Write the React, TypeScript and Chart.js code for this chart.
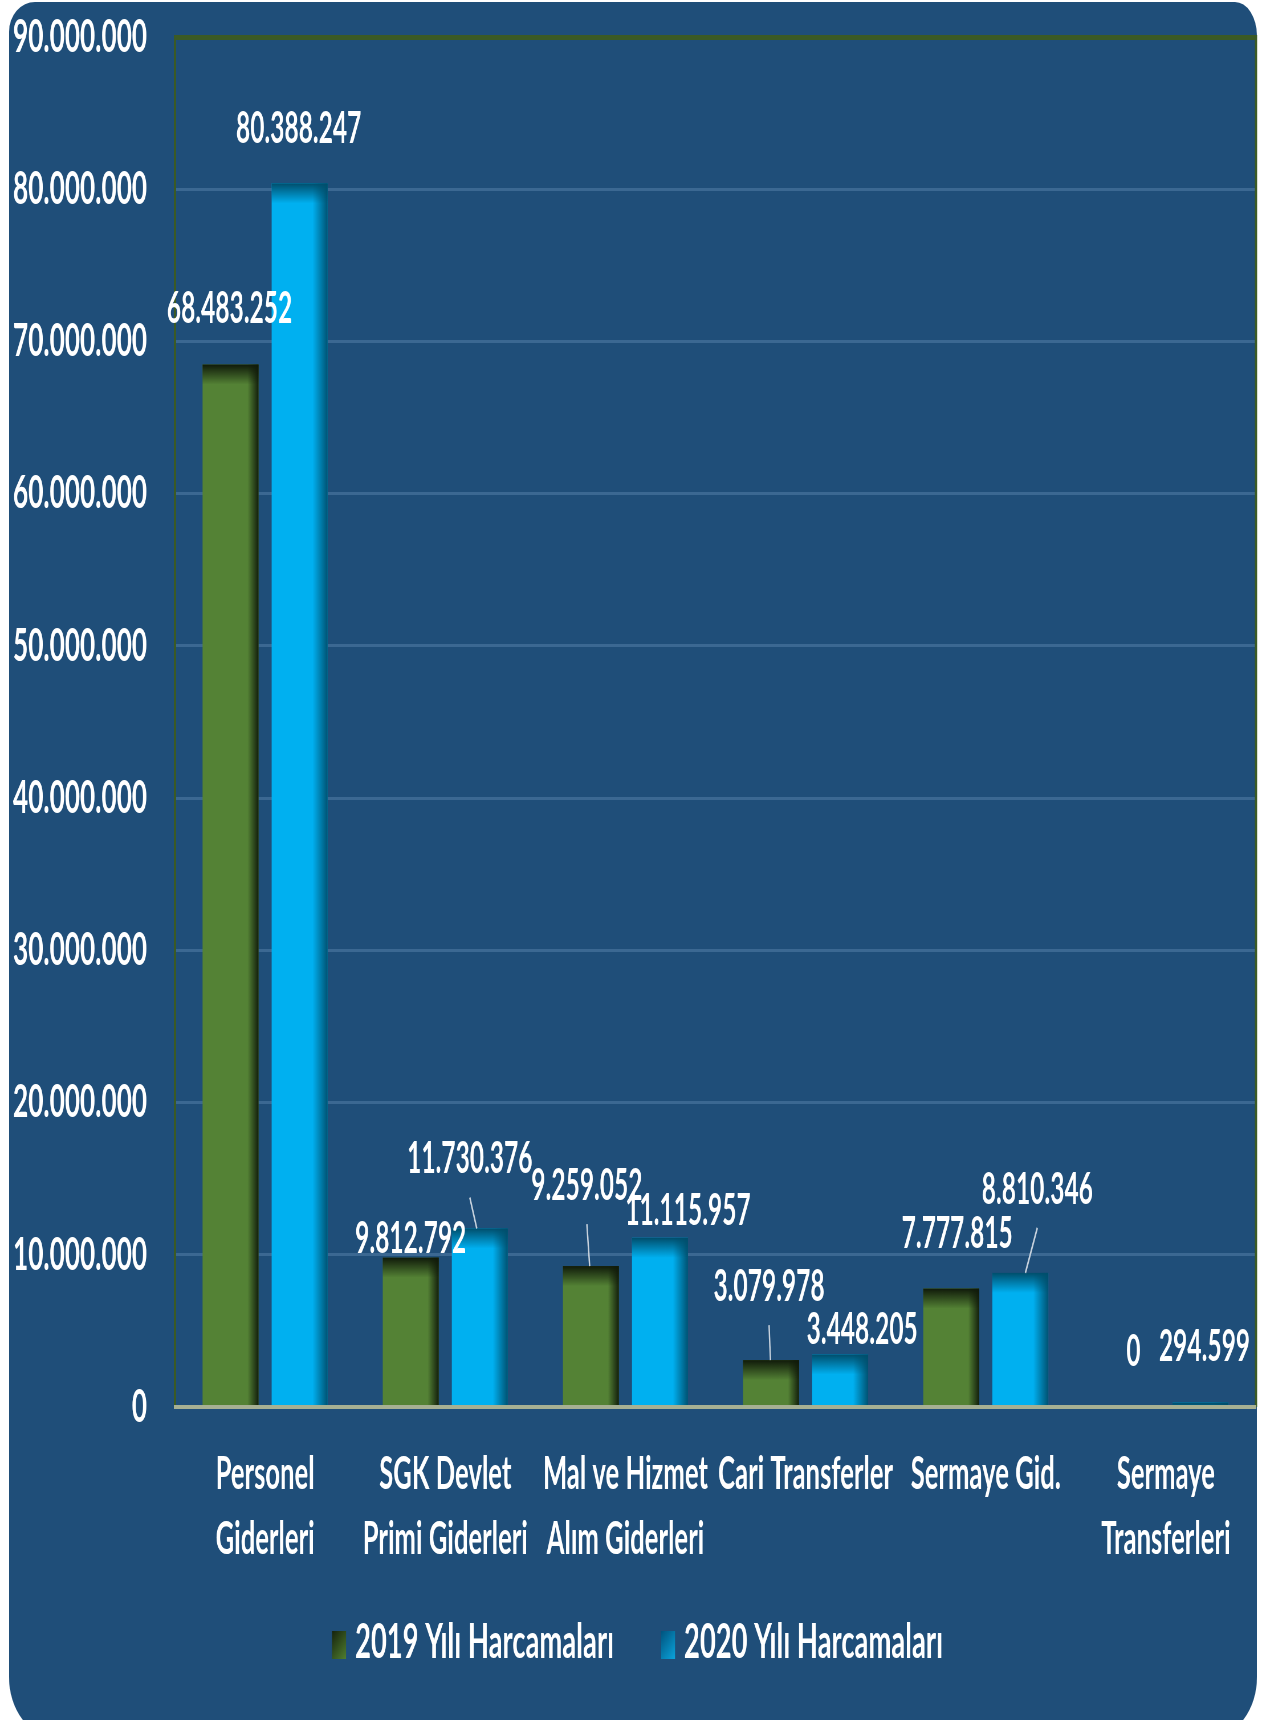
import React, { useEffect, useRef } from 'react';
import { Chart, registerables } from 'chart.js';

Chart.register(...registerables);

// ---- data ----
const categories: (string | string[])[] = [
  ['Personel', 'Giderleri'],
  ['SGK Devlet', 'Primi Giderleri'],
  ['Mal ve Hizmet', 'Alım Giderleri'],
  'Cari Transferler',
  'Sermaye Gid.',
  ['Sermaye', 'Transferleri'],
];
const seriesNames = ['2019 Yılı Harcamaları', '2020 Yılı Harcamaları'];
const values2019 = [68483252, 9812792, 9259052, 3079978, 7777815, 0];
const values2020 = [80388247, 11730376, 11115957, 3448205, 8810346, 294599];
const yMin = 0;
const yMax = 90000000;
const yStep = 10000000;

// data label offsets from bar top (screen px: dx horizontal, dy vertical)
const labelOffsets2019 = [[-1, -55], [0, -19], [-4, -80], [-2, -73], [6, -54], [2, -55]];
const labelOffsets2020 = [[-1, -54], [-10, -69], [28, -27], [22, -24], [17, -83], [4, -55]];

// ---- layout / style ----
const S = 0.57; // horizontal compression of the whole drawing
const PAGE_W = 1266;
const PAGE_H = 1720;
const WC = Math.round(PAGE_W / S);
const FONT = 'Lato, "Open Sans", sans-serif';
const W = 'bold';

const fmt = (v: number) => String(Math.round(v)).replace(/\B(?=(\d{3})+(?!\d))/g, '.');
const rgba = (c: number[], a: number) => `rgba(${c[0]},${c[1]},${c[2]},${a})`;

const darkColors = [[16, 26, 10], [0, 78, 108]];

const barStylePlugin = {
  id: 'barStyle',
  afterDatasetsDraw(chart: any) {
    const ctx = chart.ctx as CanvasRenderingContext2D;
    const offsets = [labelOffsets2019, labelOffsets2020];
    chart.data.datasets.forEach((_ds: any, di: number) => {
      const meta = chart.getDatasetMeta(di);
      const dark = darkColors[di];
      meta.data.forEach((bar: any) => {
        const { x, y, base, width } = bar.getProps(['x', 'y', 'base', 'width'], true);
        const left = x - width / 2;
        const right = x + width / 2;
        const h = base - y;
        if (h <= 0) return;
        ctx.save();
        const ew = (di === 0 ? 11 : 15) / S;
        let g = ctx.createLinearGradient(right - ew, 0, right, 0);
        g.addColorStop(0, rgba(dark, 0));
        g.addColorStop(1, rgba(dark, 0.95));
        ctx.fillStyle = g;
        ctx.fillRect(right - ew, y, ew, h);
        const th = 20;
        g = ctx.createLinearGradient(0, y, 0, y + th);
        g.addColorStop(0, rgba(dark, 1));
        g.addColorStop(1, rgba(dark, 0));
        ctx.fillStyle = g;
        ctx.fillRect(left, y, width, Math.min(th, h));
        ctx.restore();
      });
    });
    // right plot border
    const ca = chart.chartArea;
    ctx.save();
    ctx.strokeStyle = '#3b5a25';
    ctx.lineWidth = 4;
    ctx.beginPath();
    ctx.moveTo(ca.right, ca.top - 2);
    ctx.lineTo(ca.right, ca.bottom);
    ctx.stroke();
    ctx.restore();
    // data labels + leader lines
    chart.data.datasets.forEach((ds: any, di: number) => {
      const meta = chart.getDatasetMeta(di);
      meta.data.forEach((bar: any, i: number) => {
        const { x, y } = bar.getProps(['x', 'y'], true);
        const [dx, dy] = offsets[di][i];
        const lx = x + dx / S;
        const ly = y + dy;
        ctx.save();
        if (dy < -60) {
          ctx.strokeStyle = '#c9d3de';
          ctx.lineWidth = 2.5;
          ctx.beginPath();
          ctx.moveTo(lx, ly + 38);
          ctx.lineTo(x + (lx - x) * 0.3, y);
          ctx.stroke();
        }
        ctx.font = `${W} 43px ${FONT}`;
        ctx.fillStyle = '#ffffff';
        ctx.textAlign = 'center';
        ctx.textBaseline = 'middle';
        ctx.fillText(fmt(ds.data[i]), lx, ly);
        ctx.restore();
      });
    });
  },
};

const legendPlugin = {
  id: 'customLegend',
  afterDraw(chart: any) {
    const ctx = chart.ctx as CanvasRenderingContext2D;
    const ca = chart.chartArea;
    ctx.save();
    ctx.font = `${W} 48px ${FONT}`;
    const boxW = 14 / S;
    const boxH = 28;
    const gap = 9 / S;
    const spacing = 47 / S;
    const items = chart.data.datasets.map((ds: any) => ds.label as string);
    const widths = items.map((t: string) => boxW + gap + ctx.measureText(t).width);
    const total = widths.reduce((a: number, b: number) => a + b, 0) + spacing * (items.length - 1);
    let x = chart.width / 2 + 8 - total / 2;
    const cy = ca.bottom + 236;
    const stops = [['#141f0c', '#4d7a2e'], ['#00507a', '#0aa0d8']];
    items.forEach((t: string, i: number) => {
      const g = ctx.createLinearGradient(x, cy - boxH / 2, x + boxW, cy + boxH / 2);
      g.addColorStop(0, stops[i][0]);
      g.addColorStop(1, stops[i][1]);
      ctx.fillStyle = g;
      ctx.fillRect(x, cy - boxH / 2 + 2, boxW, boxH);
      ctx.fillStyle = '#ffffff';
      ctx.textAlign = 'left';
      ctx.textBaseline = 'middle';
      ctx.fillText(t, x + boxW + gap, cy);
      x += widths[i] + spacing;
    });
    ctx.restore();
  },
};

export default function App() {
  const ref = useRef<HTMLCanvasElement | null>(null);

  useEffect(() => {
    if (!ref.current) return;
    const chart = new Chart(ref.current, {
      type: 'bar',
      data: {
        labels: categories as any,
        datasets: [
          {
            label: seriesNames[0],
            data: values2019,
            backgroundColor: '#548235',
            categoryPercentage: 0.767,
            barPercentage: 0.81,
          },
          {
            label: seriesNames[1],
            data: values2020,
            backgroundColor: '#00b0f0',
            categoryPercentage: 0.767,
            barPercentage: 0.81,
          },
        ],
      },
      options: {
        responsive: false,
        animation: false,
        devicePixelRatio: 1,
        layout: { padding: { left: 0, right: WC - 1256 / S, top: 37, bottom: 148 } },
        plugins: {
          legend: { display: false },
          tooltip: { enabled: false },
        },
        scales: {
          x: {
            afterFit: (scale: any) => {
              scale.height = 165;
            },
            grid: { display: true, drawOnChartArea: false, drawTicks: false },
            border: { display: true, color: '#a6b093', width: 4, z: 1 },
            ticks: {
              color: '#ffffff',
              font: { family: FONT, size: 45, weight: W, lineHeight: 1.44 },
              padding: 35,
              maxRotation: 0,
              autoSkip: false,
            },
          },
          y: {
            min: yMin,
            max: yMax,
            afterFit: (scale: any) => {
              scale.width = 175 / S;
              scale.paddingTop = 0;
              scale.paddingBottom = 0;
            },
            ticks: {
              stepSize: yStep,
              color: '#ffffff',
              font: { family: FONT, size: 46, weight: W },
              padding: 49,
              callback: (v: any) => fmt(Number(v)),
            },
            grid: {
              drawTicks: false,
              color: (c: any) =>
                c.tick && c.tick.value === yMax
                  ? '#3b5a25'
                  : c.tick && c.tick.value === yMin
                  ? 'rgba(0,0,0,0)'
                  : '#3b6892',
              lineWidth: (c: any) => (c.tick && c.tick.value === yMax ? 5 : 3),
            },
            border: { display: true, color: '#3b5a25', width: 4 },
          },
        },
      },
      plugins: [barStylePlugin, legendPlugin],
    } as any);
    return () => chart.destroy();
  }, []);

  return (
    <div
      style={{
        position: 'absolute',
        left: 0,
        top: 0,
        width: PAGE_W,
        height: PAGE_H,
        overflow: 'hidden',
        background: '#ffffff',
      }}
    >
      <div
        style={{
          position: 'absolute',
          left: 9,
          top: 2,
          width: 1248,
          height: 1735,
          background: '#1f4e79',
          borderRadius: '26px 22px 46px 46px / 30px 34px 60px 60px',
        }}
      />
      <div
        style={{
          position: 'absolute',
          left: 0,
          top: 0,
          width: WC,
          height: PAGE_H,
          transform: `scaleX(${S})`,
          transformOrigin: '0 0',
        }}
      >
        <canvas ref={ref} width={WC} height={PAGE_H} style={{ display: 'block' }} />
      </div>
    </div>
  );
}
